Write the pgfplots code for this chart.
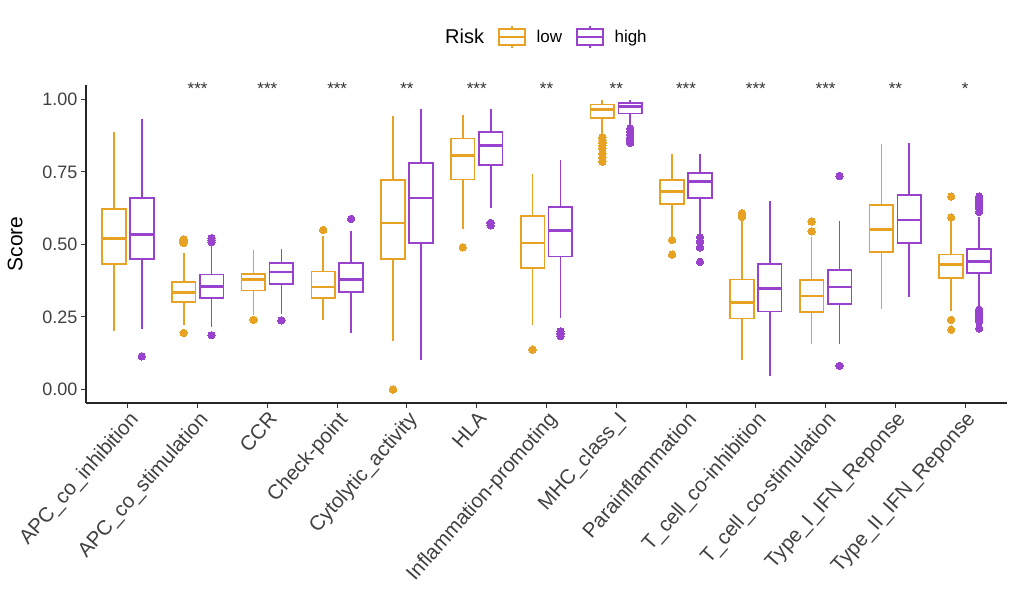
\documentclass[border=0pt]{standalone}
\usepackage{pgfplots}
\pgfplotsset{compat=1.18}
\usepgfplotslibrary{statistics}
\usepackage{fontspec}
\setmainfont{Liberation Sans}
\definecolor{lowc}{RGB}{231,162,36}
\definecolor{highc}{RGB}{153,66,206}
\pgfplotsset{
  lowbox/.style={draw=lowc, line width=1.7pt, fill=white, solid, mark=*, mark size=3.7pt,
     mark options={fill=lowc, draw=lowc, line width=0pt},
     boxplot/draw direction=y,
     boxplot/box extend=0.34, boxplot/whisker extend=0,
     boxplot/every median/.style={line width=2.8pt}},
  highbox/.style={draw=highc, line width=1.7pt, fill=white, solid, mark=*, mark size=3.7pt,
     mark options={fill=highc, draw=highc, line width=0pt},
     boxplot/draw direction=y,
     boxplot/box extend=0.34, boxplot/whisker extend=0,
     boxplot/every median/.style={line width=2.8pt}},
  lowlegend/.style={legend image code/.code={
     \draw[lowc,line width=1.5pt,fill=white] (0pt,-8pt) rectangle (26pt,8pt);
     \draw[lowc,line width=1.5pt] (0pt,0pt)--(26pt,0pt);
     \draw[lowc,line width=1.5pt] (13pt,8pt)--(13pt,11pt) (13pt,-8pt)--(13pt,-11pt);}},
  highlegend/.style={legend image code/.code={
     \draw[highc,line width=1.5pt,fill=white] (0pt,-8pt) rectangle (26pt,8pt);
     \draw[highc,line width=1.5pt] (0pt,0pt)--(26pt,0pt);
     \draw[highc,line width=1.5pt] (13pt,8pt)--(13pt,11pt) (13pt,-8pt)--(13pt,-11pt);}},
}
% #1 style, #2 position, #3 lw, #4 lq, #5 med, #6 uq, #7 uw, #8 outlier data
\newcommand{\bx}[8]{\addplot[#1, boxplot prepared={draw position=#2, lower whisker=#3,
  lower quartile=#4, median=#5, upper quartile=#6, upper whisker=#7}] #8;}
\newcommand{\st}[2]{\node[anchor=base, font=\fontsize{17}{17}\selectfont, text=black!80] at (axis cs:#1,1.017) {#2};}
\begin{document}
\begin{tikzpicture}
\begin{axis}[
  scale only axis, width=921pt, height=318pt,
  xmin=-0.6, xmax=12.6, ymin=-0.047, ymax=1.05,
  axis x line=bottom, axis y line=left,
  axis line style={-, line width=1.4pt, black!85},
  tick align=outside, major tick length=5pt,
  tick style={line width=1pt, black!80},
  xtick={0,1,2,3,4,5,6,7,8,9,10,11,12},
  xticklabels={APC\_co\_inhibition, APC\_co\_stimulation, CCR, Check-point, Cytolytic\_activity, HLA, Inflammation-promoting, MHC\_class\_I, Parainflammation, T\_cell\_co-inhibition, T\_cell\_co-stimulation, Type\_I\_IFN\_Reponse, Type\_II\_IFN\_Reponse},
  x tick label style={rotate=48.5, anchor=north east, font=\fontsize{20.5}{20.5}\selectfont, text=black!75, inner sep=1.5pt},
  ytick={0,0.25,0.5,0.75,1},
  y tick label style={font=\fontsize{18}{18}\selectfont, text=black!75, /pgf/number format/.cd, fixed, fixed zerofill, precision=2, assume math mode=true},
  ylabel={Score},
  ylabel style={font=\fontsize{21}{21}\selectfont, at={(axis description cs:0,0.5)}, anchor=south, yshift=60pt},
  legend columns=3,
  legend style={draw=none, at={(0.4945,1.151)}, anchor=center, font=\fontsize{17}{17}\selectfont,
     /tikz/every odd column/.append style={column sep=9pt},
     /tikz/every even column/.append style={column sep=12pt}},
  clip=false,
]
\addlegendimage{empty legend}\addlegendentry{\fontsize{20}{20}\selectfont Risk}
\addlegendimage{lowlegend}\addlegendentry{low}
\addlegendimage{highlegend}\addlegendentry{high}

% 0 APC_co_inhibition
\bx{lowbox}{-0.2}{0.201}{0.432}{0.521}{0.622}{0.889}{coordinates {}}
\bx{highbox}{0.2}{0.209}{0.450}{0.534}{0.659}{0.931}{table[row sep=\\,y index=0]{d\\0.114\\}}
% 1 APC_co_stimulation
\bx{lowbox}{0.8}{0.222}{0.302}{0.333}{0.371}{0.470}{table[row sep=\\,y index=0]{d\\0.195\\0.505\\0.512\\0.518\\}}
\bx{highbox}{1.2}{0.215}{0.315}{0.356}{0.396}{0.500}{table[row sep=\\,y index=0]{d\\0.187\\0.508\\0.515\\0.522\\}}
% 2 CCR
\bx{lowbox}{1.8}{0.255}{0.341}{0.379}{0.399}{0.482}{table[row sep=\\,y index=0]{d\\0.240\\}}
\bx{highbox}{2.2}{0.261}{0.364}{0.405}{0.435}{0.485}{table[row sep=\\,y index=0]{d\\0.238\\}}
% 3 Check-point
\bx{lowbox}{2.8}{0.240}{0.316}{0.353}{0.407}{0.530}{table[row sep=\\,y index=0]{d\\0.550\\}}
\bx{highbox}{3.2}{0.196}{0.335}{0.379}{0.437}{0.547}{table[row sep=\\,y index=0]{d\\0.588\\}}
% 4 Cytolytic_activity
\bx{lowbox}{3.8}{0.166}{0.450}{0.574}{0.722}{0.943}{table[row sep=\\,y index=0]{d\\0.000\\}}
\bx{highbox}{4.2}{0.103}{0.504}{0.660}{0.782}{0.968}{coordinates {}}
% 5 HLA
\bx{lowbox}{4.8}{0.553}{0.724}{0.806}{0.865}{0.945}{table[row sep=\\,y index=0]{d\\0.490\\}}
\bx{highbox}{5.2}{0.624}{0.775}{0.840}{0.888}{0.966}{table[row sep=\\,y index=0]{d\\0.566\\0.574\\}}
% 6 Inflammation-promoting
\bx{lowbox}{5.8}{0.221}{0.419}{0.505}{0.597}{0.744}{table[row sep=\\,y index=0]{d\\0.137\\}}
\bx{highbox}{6.2}{0.247}{0.458}{0.547}{0.628}{0.790}{table[row sep=\\,y index=0]{d\\0.184\\0.192\\0.200\\}}
% 7 MHC_class_I
\bx{lowbox}{6.8}{0.880}{0.937}{0.966}{0.983}{0.997}{table[row sep=\\,y index=0]{d\\0.870\\0.860\\0.850\\0.840\\0.830\\0.815\\0.800\\0.785\\}}
\bx{highbox}{7.2}{0.908}{0.952}{0.977}{0.988}{0.997}{table[row sep=\\,y index=0]{d\\0.900\\0.890\\0.880\\0.870\\0.860\\0.850\\}}
% 8 Parainflammation
\bx{lowbox}{7.8}{0.530}{0.639}{0.683}{0.722}{0.813}{table[row sep=\\,y index=0]{d\\0.515\\0.465\\}}
\bx{highbox}{8.2}{0.536}{0.660}{0.717}{0.746}{0.813}{table[row sep=\\,y index=0]{d\\0.525\\0.510\\0.490\\0.440\\}}
% 9 T_cell_co-inhibition
\bx{lowbox}{8.8}{0.103}{0.244}{0.301}{0.379}{0.585}{table[row sep=\\,y index=0]{d\\0.595\\0.602\\0.608\\}}
\bx{highbox}{9.2}{0.046}{0.269}{0.347}{0.433}{0.651}{coordinates {}}
% 10 T_cell_co-stimulation
\bx{lowbox}{9.8}{0.158}{0.267}{0.322}{0.378}{0.524}{table[row sep=\\,y index=0]{d\\0.545\\0.579\\}}
\bx{highbox}{10.2}{0.158}{0.295}{0.353}{0.413}{0.582}{table[row sep=\\,y index=0]{d\\0.736\\0.081\\}}
% 11 Type_I_IFN_Reponse
\bx{lowbox}{10.8}{0.278}{0.473}{0.551}{0.636}{0.848}{coordinates {}}
\bx{highbox}{11.2}{0.318}{0.504}{0.584}{0.670}{0.851}{coordinates {}}
% 12 Type_II_IFN_Reponse
\bx{lowbox}{11.8}{0.272}{0.385}{0.430}{0.465}{0.576}{table[row sep=\\,y index=0]{d\\0.665\\0.593\\0.240\\0.206\\}}
\bx{highbox}{12.2}{0.284}{0.401}{0.441}{0.485}{0.593}{table[row sep=\\,y index=0]{d\\0.665\\0.655\\0.645\\0.635\\0.625\\0.612\\0.275\\0.265\\0.255\\0.245\\0.235\\0.210\\}}

\st{1}{***}\st{2}{***}\st{3}{***}\st{4}{**}\st{5}{***}\st{6}{**}
\st{7}{**}\st{8}{***}\st{9}{***}\st{10}{***}\st{11}{**}\st{12}{*}
\end{axis}
\pgfresetboundingbox
\path[use as bounding box] (-86pt,-204pt) rectangle (926pt,403pt);
\end{tikzpicture}
\end{document}
